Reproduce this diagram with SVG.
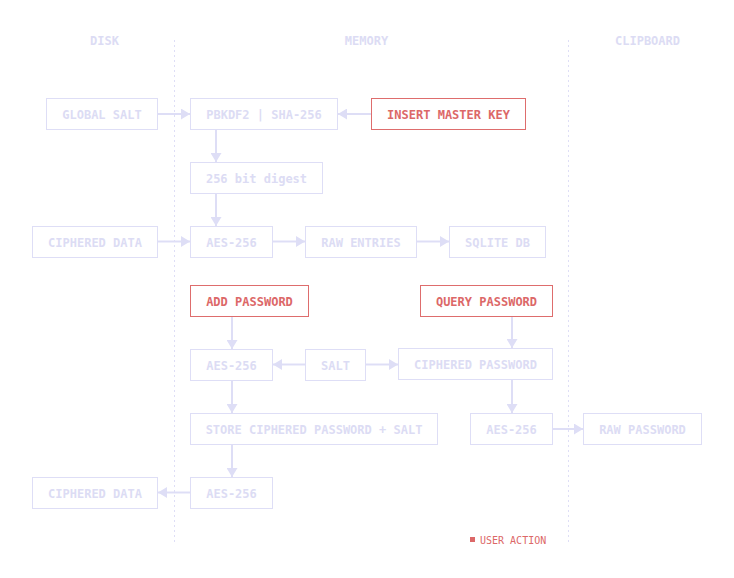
<svg xmlns="http://www.w3.org/2000/svg" width="734" height="578" viewBox="0 0 734 578">
<style>
text{font-family:"DejaVu Sans Mono","Liberation Mono",monospace;font-size:12px;font-weight:bold;text-anchor:middle}
.n rect{fill:#fff;stroke:#dedef6;stroke-width:1}
.n text{fill:#dcdcf4}
.u rect{fill:#fff;stroke:#de6d6d;stroke-width:1}
.u text{fill:#dc6868}
.h{fill:#dcdcf4}
.div{stroke:#dedef6;stroke-width:1;stroke-dasharray:2 3}
.c line{stroke:#dedef6;stroke-width:2;marker-end:url(#ah)}
</style>
<defs>
<marker id="ah" markerUnits="userSpaceOnUse" markerWidth="10" markerHeight="11" refX="9" refY="5.5" orient="auto">
<path d="M0,0 L9,5.5 L0,11 Z" fill="#dedef6"/>
</marker>
</defs>
<rect width="734" height="578" fill="#fff"/>
<g id="lanes">
<line class="div" x1="174.5" y1="40" x2="174.5" y2="545"/>
<line class="div" x1="568.5" y1="40" x2="568.5" y2="545"/>
<text class="h" x="104.5" y="44.5">DISK</text>
<text class="h" x="366.5" y="44.5">MEMORY</text>
<text class="h" x="647.5" y="44.5">CLIPBOARD</text>
</g>
<g id="connectors" class="c">
<line x1="158" y1="114" x2="190" y2="114"/>
<line x1="371" y1="114" x2="338" y2="114"/>
<line x1="216" y1="130" x2="216" y2="162"/>
<line x1="216" y1="194" x2="216" y2="226"/>
<line x1="158" y1="241.5" x2="190" y2="241.5"/>
<line x1="273" y1="241.5" x2="305" y2="241.5"/>
<line x1="417" y1="241.5" x2="449" y2="241.5"/>
<line x1="232" y1="317" x2="232" y2="349"/>
<line x1="512" y1="317" x2="512" y2="348"/>
<line x1="305" y1="364.5" x2="273" y2="364.5"/>
<line x1="366" y1="364.5" x2="398" y2="364.5"/>
<line x1="232" y1="381" x2="232" y2="413"/>
<line x1="512" y1="380" x2="512" y2="413"/>
<line x1="232" y1="445" x2="232" y2="477"/>
<line x1="190" y1="492.5" x2="158" y2="492.5"/>
<line x1="553" y1="429" x2="583" y2="429"/>
</g>
<g id="global-salt" class="n"><rect x="46.5" y="98.5" width="111" height="31"/><text x="102" y="118.5">GLOBAL SALT</text></g>
<g id="pbkdf2" class="n"><rect x="190.5" y="98.5" width="147" height="31"/><text x="264" y="118.5">PBKDF2 | SHA-256</text></g>
<g id="insert-master-key" class="u"><rect x="371.5" y="98.5" width="154" height="31"/><text x="448.5" y="118.5">INSERT MASTER KEY</text></g>
<g id="digest" class="n"><rect x="190.5" y="162.5" width="132" height="31"/><text x="256.5" y="182.5">256 bit digest</text></g>
<g id="ciphered-data-1" class="n"><rect x="32.5" y="226.5" width="125" height="31"/><text x="95" y="246.5">CIPHERED DATA</text></g>
<g id="aes-1" class="n"><rect x="190.5" y="226.5" width="82" height="31"/><text x="231.5" y="246.5">AES-256</text></g>
<g id="raw-entries" class="n"><rect x="305.5" y="226.5" width="111" height="31"/><text x="361" y="246.5">RAW ENTRIES</text></g>
<g id="sqlite-db" class="n"><rect x="449.5" y="226.5" width="96" height="31"/><text x="497.5" y="246.5">SQLITE DB</text></g>
<g id="add-password" class="u"><rect x="190.5" y="285.5" width="118" height="31"/><text x="249.5" y="305.5">ADD PASSWORD</text></g>
<g id="query-password" class="u"><rect x="420.5" y="285.5" width="132" height="31"/><text x="486.5" y="305.5">QUERY PASSWORD</text></g>
<g id="aes-2" class="n"><rect x="190.5" y="349.5" width="82" height="31"/><text x="231.5" y="369.5">AES-256</text></g>
<g id="salt" class="n"><rect x="305.5" y="349.5" width="60" height="31"/><text x="335.5" y="369.5">SALT</text></g>
<g id="ciphered-password" class="n"><rect x="398.5" y="348.5" width="154" height="31"/><text x="475.5" y="368.5">CIPHERED PASSWORD</text></g>
<g id="store" class="n"><rect x="190.5" y="413.5" width="247" height="31"/><text x="314" y="433.5">STORE CIPHERED PASSWORD + SALT</text></g>
<g id="aes-3" class="n"><rect x="470.5" y="413.5" width="82" height="31"/><text x="511.5" y="433.5">AES-256</text></g>
<g id="raw-password" class="n"><rect x="583.5" y="413.5" width="118" height="31"/><text x="642.5" y="433.5">RAW PASSWORD</text></g>
<g id="ciphered-data-2" class="n"><rect x="32.5" y="477.5" width="125" height="31"/><text x="95" y="497.5">CIPHERED DATA</text></g>
<g id="aes-4" class="n"><rect x="190.5" y="477.5" width="82" height="31"/><text x="231.5" y="497.5">AES-256</text></g>
<g id="legend">
<rect x="470" y="537" width="5" height="5" fill="#dc6868"/>
<text x="480" y="543.5" style="font-size:10px;text-anchor:start;font-weight:normal" fill="#dc6868">USER ACTION</text>
</g>
</svg>
